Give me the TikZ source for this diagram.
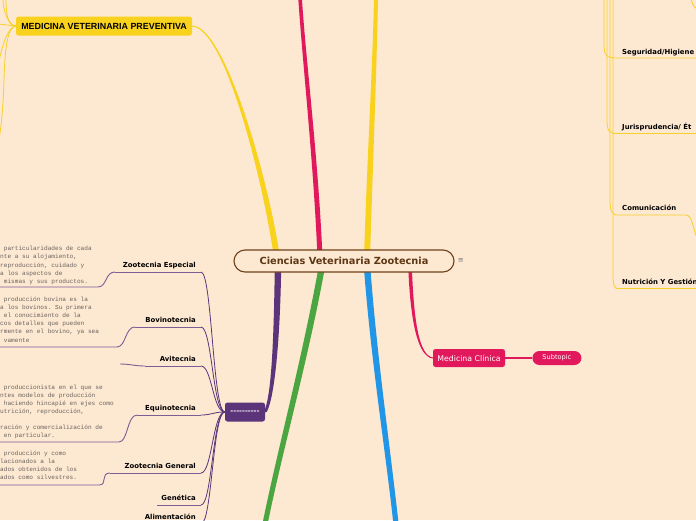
\documentclass[tikz,border=0pt]{standalone}
\usepackage{fontspec}
\setsansfont{DejaVu Sans}
\setmonofont{Liberation Mono}
\newfontfamily\capsfont{Liberation Sans}
\usetikzlibrary{positioning,calc,backgrounds}

\definecolor{paper}{RGB}{253,232,210}
\definecolor{yellowc}{RGB}{249,210,30}
\definecolor{wispc}{RGB}{248,208,40}
\definecolor{pinkc}{RGB}{226,24,93}
\definecolor{purplec}{RGB}{92,52,122}
\definecolor{greenc}{RGB}{75,165,65}
\definecolor{bluec}{RGB}{33,150,230}
\definecolor{brownc}{RGB}{110,65,25}
\definecolor{memogray}{RGB}{105,98,92}

% tapered branch: colour, from, control, control, to, half width at start/end
\newcommand\limb[7]{%
  \fill[#1] ($(#2)+(-#6,0)$) .. controls ($(#3)+(-#6,0)$) and ($(#4)+(-#7,0)$) .. ($(#5)+(-#7,0)$)
    -- ($(#5)+(#7,0)$) .. controls ($(#4)+(#7,0)$) and ($(#3)+(#6,0)$) .. ($(#2)+(#6,0)$) -- cycle;
  \draw[#1,line width=1pt] (#2) .. controls (#3) and (#4) .. (#5);}

\begin{document}
\begin{tikzpicture}[x=1pt,y=-1pt,
    rootbox/.style={draw=brownc,line width=1.1pt,fill=paper,rounded corners=11pt,
      minimum width=220pt,minimum height=22pt,inner sep=0pt,text=brownc!85!black,
      font=\sffamily\bfseries\fontsize{9.8}{11}\selectfont},
    menu/.style={inner sep=0pt,text=black!55,font=\sffamily\fontsize{7}{8}\selectfont},
    prevbox/.style={fill=yellowc,rounded corners=2.5pt,minimum width=176pt,minimum height=19pt,
      inner sep=0pt,font=\capsfont\bfseries\fontsize{8.9}{10}\selectfont},
    zoobox/.style={fill=purplec,rounded corners=2.5pt,minimum width=40pt,minimum height=19pt,
      inner sep=0pt,text=white,font=\sffamily\bfseries\fontsize{7}{8}\selectfont},
    clinbox/.style={fill=pinkc,rounded corners=2.5pt,minimum width=72pt,minimum height=18pt,
      inner sep=0pt,text=white,font=\sffamily\fontsize{7.8}{9}\selectfont},
    subbox/.style={fill=pinkc,rounded corners=7pt,minimum width=49pt,minimum height=14pt,
      inner sep=0pt,text=white,font=\sffamily\fontsize{6.6}{8}\selectfont},
    sub/.style={anchor=base east,inner sep=0pt,font=\sffamily\bfseries\fontsize{6.9}{8}\selectfont},
    rsub/.style={anchor=base west,inner sep=0pt,font=\sffamily\bfseries\fontsize{6.9}{8}\selectfont},
    memo/.style={anchor=base west,inner sep=0pt,text=memogray,font=\ttfamily\fontsize{6.1}{8}\selectfont},
    twig/.style={purplec,line width=0.8pt},
    stem/.style={purplec!80,line width=0.9pt},
    wisp/.style={wispc,line width=0.8pt}]
\useasboundingbox (0,0) rectangle (696,520);

\node[rootbox] (root) at (344,261) {Ciencias Veterinaria Zootecnia};
\node[menu, right=3pt of root] (menu) {≡};
\node[prevbox] (prev) at (104,26) {MEDICINA VETERINARIA PREVENTIVA};
\node[zoobox] (zoo) at (245,412) {-{}-{}-{}-{}-{}-{}-{}-{}-{}-};
\node[clinbox] (clin) at (469,358) {Medicina Clínica};
\node[subbox, right=27pt of clin] (subt) {Subtopic};

% subtopics
\foreach \n/\t/\y/\l in {ze/Zootecnia Especial/272/115,bov/Bovinotecnia/327/135,avi/Avitecnia/366/145,
    equi/Equinotecnia/415/137,zg/Zootecnia General/473/110,gen/Genética/505/157,ali/Alimentación/524/150}{
  \node[sub] (\n) at (196,\y-5) {\t};
  \coordinate (\n-r) at (201,\y);
  \coordinate (\n-l) at (\l,\y);
}
\node[rsub] (seg) at (622,54) {Seguridad/Higiene};
\node[rsub] (jur) at (622,129) {Jurisprudencia/ Ét};
\node[rsub] (com) at (622,210) {Comunicación};
\node[rsub] (nut) at (622,284) {Nutrición Y Gestión};

% notes
\foreach \t [count=\i from 0] in {{~particularidades de cada},{nte a su alojamiento,},
    {reproducción, cuidado y},{a los aspectos de},{~mismas y sus productos.}}
  \node[memo] (zen\i) at (0,250.5+8.3*\i) {\t};
\foreach \t [count=\i from 0] in {{~producción bovina es la},{a los bovinos. Su primera},
    {~el conocimiento de la},{cos detalles que pueden},{rmente en el bovino, ya sea},{~vamente}}
  \node[memo] (bon\i) at (0,301+8.2*\i) {\t};
\foreach \t [count=\i from 0] in {{~produccionista en el que se},{ntes modelos de producción},
    {~haciendo hincapié en ejes como},{utrición, reproducción,},{},
    {ración y comercialización de},{~en particular.}}
  \node[memo] (eqn\i) at (0,389+8*\i) {\t};
\foreach \t [count=\i from 0] in {{~producción y como},{lacionados a la},
    {ados obtenidos de los},{ados como silvestres.}}
  \node[memo] (zgn\i) at (0,455+8*\i) {\t};

\path (277,258) coordinate (pv0)
      (320,258) coordinate (pk0) (300,-3) coordinate (pk1)
      (367,258) coordinate (yl0) (376,-3) coordinate (yl1)
      (278,266) coordinate (pu0)
      (322,266) coordinate (gr0) (265,524) coordinate (gr1)
      (367,266) coordinate (bl0) (396,524) coordinate (bl1)
      (410,266) coordinate (pl0)
      (6,-2) coordinate (wA) (3,-2) coordinate (wB) (-2,24) coordinate (wC)
      (-2,145) coordinate (wD) (-2,66) coordinate (wE)
      (98,287) coordinate (ze-k) (-2,287) coordinate (ze-e)
      (117,347) coordinate (bov-k) (-2,347) coordinate (bov-e)
      (119,442) coordinate (equi-k) (-2,442) coordinate (equi-e)
      (99,485) coordinate (zg-k) (-2,485) coordinate (zg-e)
      (120,364) coordinate (avi-e)
      (691,-2) coordinate (tr0) (697,9) coordinate (tr1);

\begin{scope}[on background layer]
\fill[paper] (0,0) rectangle (696,520);
% main branches
\limb{yellowc}{pv0}{266,180}{225,27}{prev.east}{3}{0.4}
\limb{yellowc}{yl0}{370,160}{375,60}{yl1}{3}{2}
\limb{pinkc}{pk0}{316,160}{304,60}{pk1}{2.5}{1.8}
\limb{purplec}{pu0}{277,340}{273,398}{zoo.east}{3.2}{1.5}
\limb{greenc}{gr0}{305,360}{280,450}{gr1}{3.2}{2.6}
\limb{bluec}{bl0}{374,360}{388,450}{bl1}{3.2}{2.6}
\limb{pinkc}{pl0}{412,320}{418,356}{clin.west}{1.8}{0.6}
\draw[pinkc,line width=1.2pt] (clin.east) -- (subt.west);
% yellow wisps on the left
\draw[wisp] (prev.west) .. controls (9,26) and (6,18) .. (wA);
\draw[wisp] (prev.west) .. controls (11,26) and (3,16) .. (wB);
\draw[wisp] (prev.west) -- (wC);
\draw[wisp] (prev.west) .. controls (8,27) and (5,45) .. (4,80) .. controls (3,110) and (1,130) .. (wD);
\draw[wisp] (prev.west) .. controls (9,27) and (3,40) .. (wE);
% yellow wisps on the right
\foreach \n/\x/\y in {seg/604/58,jur/607/133.5,nut/613/288.5}{
  \coordinate (\n-t) at (\x,-2);
  \coordinate (\n-u) at (617,\y);
  \coordinate (\n-e) at (697,\y);
  \draw[wisp] (\n-t) -- (\x,\y-14) .. controls (\x,\y-3) and (\x+2,\y) .. (\n-u) -- (\n-e);
}
\path (610,-2) coordinate (com-t) (617,215) coordinate (com-u) (697,238) coordinate (com-e);
\draw[wisp] (com-t) -- (610,201) .. controls (610,212) and (613,215) .. (com-u) -- (686,215)
  .. controls (692,215) and (693,228) .. (com-e);
\draw[wisp] (tr0) .. controls (692,4) and (694,7) .. (tr1);
% purple twigs
\foreach \n in {ze,bov,avi,equi,zg,gen,ali}
  \draw[twig] (zoo.west) .. controls +(-12,0) and +(11,0) .. (\n-r);
\foreach \n in {ze,bov,avi,equi,zg,gen,ali}
  \draw[stem] (\n-r) -- (\n-l);
\foreach \n in {ze,bov,equi,zg}
  \draw[stem] (\n-l) .. controls +(-10,0) and +(9,0) .. (\n-k) -- (\n-e);
\draw[stem] (avi-l) .. controls +(-10,0) and +(10,0) .. (avi-e);
\end{scope}
\end{tikzpicture}
\end{document}
